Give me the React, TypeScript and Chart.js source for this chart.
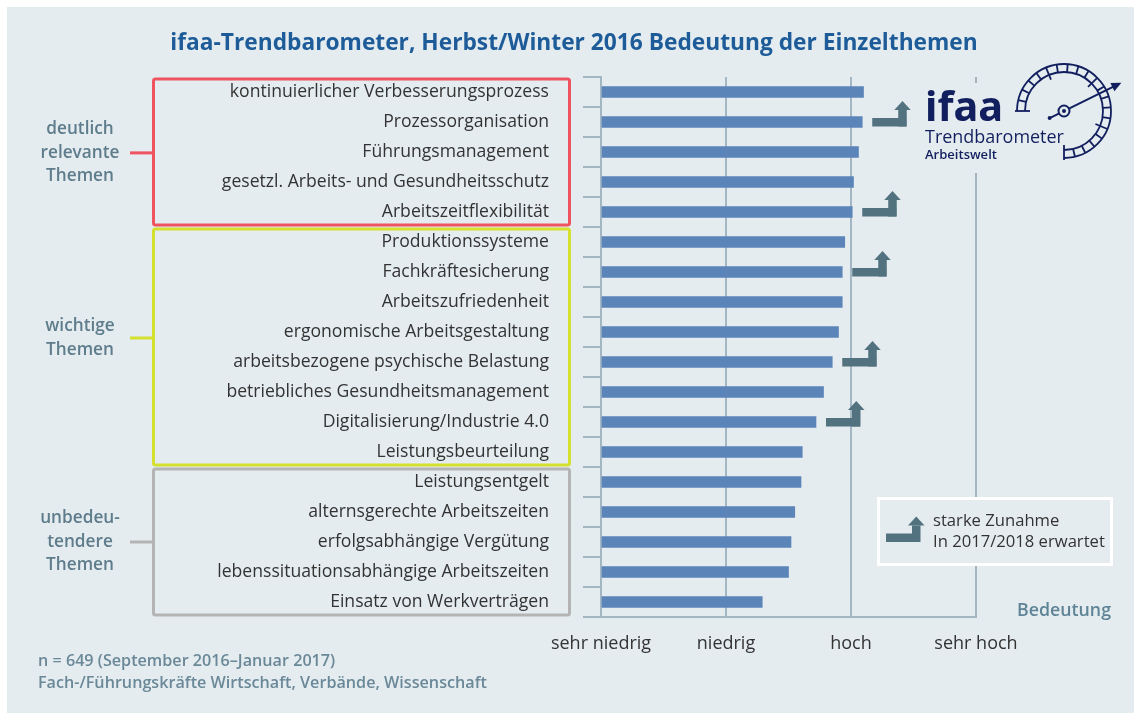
import React, { useEffect, useRef } from "react";
import { Chart, registerables } from "chart.js";

Chart.register(...registerables);

const categories = [
  "kontinuierlicher Verbesserungsprozess",
  "Prozessorganisation",
  "Führungsmanagement",
  "gesetzl. Arbeits- und Gesundheitsschutz",
  "Arbeitszeitflexibilität",
  "Produktionssysteme",
  "Fachkräftesicherung",
  "Arbeitszufriedenheit",
  "ergonomische Arbeitsgestaltung",
  "arbeitsbezogene psychische Belastung",
  "betriebliches Gesundheitsmanagement",
  "Digitalisierung/Industrie 4.0",
  "Leistungsbeurteilung",
  "Leistungsentgelt",
  "alternsgerechte Arbeitszeiten",
  "erfolgsabhängige Vergütung",
  "lebenssituationsabhängige Arbeitszeiten",
  "Einsatz von Werkverträgen",
];

const values = [3.10, 3.09, 3.06, 3.02, 3.01, 2.95, 2.93, 2.93, 2.90, 2.85, 2.78, 2.72, 2.61, 2.60, 2.55, 2.52, 2.50, 2.29];

const strongIncrease = [false, true, false, false, true, false, true, false, false, true, false, true, false, false, false, false, false, false];

const scaleLabels = ["sehr niedrig", "niedrig", "hoch", "sehr hoch"];

const groupLabels = [
  ["deutlich", "relevante", "Themen"],
  ["wichtige", "Themen"],
  ["unbedeu-", "tendere", "Themen"],
];
const groupFirst = [0, 5, 13];
const groupLast = [4, 12, 17];
const groupColors = ["#ef5360", "#d5e02e", "#b4b4b4"];
const groupAnchor = [2.03, 8.2, 15.0];

const titleText = "ifaa-Trendbarometer, Herbst/Winter 2016 Bedeutung der Einzelthemen";
const axisTitle = "Bedeutung";
const legendLines = ["starke Zunahme", "In 2017/2018 erwartet"];
const footLines = ["n = 649 (September 2016–Januar 2017)", "Fach-/Führungskräfte Wirtschaft, Verbände, Wissenschaft"];
const logoLines = ["ifaa", "Trendbarometer", "Arbeitswelt"];

const FAMILY = '"Open Sans", sans-serif';
const BG = "#e4ecf0";
const GRID = "#a3b6c4";
const BAR = "#5b84b8";
const ARROW = "#52727f";
const NAVY = "#121f5e";

function fitSize(ctx: CanvasRenderingContext2D, text: string, weight: string, family: string, target: number) {
  ctx.font = `${weight} 20px ${family}`;
  const w = ctx.measureText(text).width;
  return (20 * target) / w;
}

function drawArrow(ctx: CanvasRenderingContext2D, x0: number, cy: number) {
  ctx.fillStyle = ARROW;
  ctx.fillRect(x0, cy - 4, 34, 8.5);
  ctx.fillRect(x0 + 26, cy - 12, 8.5, 16.5);
  ctx.beginPath();
  ctx.moveTo(x0 + 22, cy - 12);
  ctx.lineTo(x0 + 38.5, cy - 12);
  ctx.lineTo(x0 + 30.25, cy - 21);
  ctx.closePath();
  ctx.fill();
}

function drawGauge(ctx: CanvasRenderingContext2D, cx: number, cy: number) {
  const rO = 47;
  const rI = 39;
  const a0 = Math.PI;
  const a1 = Math.PI * 2.5;
  ctx.save();
  ctx.strokeStyle = NAVY;
  ctx.lineWidth = 1.8;
  ctx.beginPath();
  ctx.arc(cx, cy, rO, a0, a1);
  ctx.stroke();
  ctx.beginPath();
  ctx.arc(cx, cy, rI, a0, a1);
  ctx.stroke();
  const n = 20;
  for (let i = 0; i <= n; i++) {
    const a = a0 + ((a1 - a0) * i) / n;
    const long = i === 0 || i === n || i % 5 === 0;
    const r1 = long ? rI - 5 : rI;
    const r2 = i === 0 || i === n ? rO + 2 : rO;
    ctx.beginPath();
    ctx.moveTo(cx + Math.cos(a) * r1, cy + Math.sin(a) * r1);
    ctx.lineTo(cx + Math.cos(a) * r2, cy + Math.sin(a) * r2);
    ctx.stroke();
  }
  const dx = 73;
  const dy = -36;
  const len = Math.hypot(dx, dy);
  const ux = dx / len;
  const uy = dy / len;
  const sx = cx - ux * 16;
  const sy = cy - uy * 16;
  const tx = cx + ux * 64;
  const ty = cy + uy * 64;
  ctx.lineWidth = 2;
  ctx.beginPath();
  ctx.moveTo(sx, sy);
  ctx.lineTo(tx - ux * 6, ty - uy * 6);
  ctx.stroke();
  ctx.fillStyle = NAVY;
  ctx.beginPath();
  ctx.moveTo(tx, ty);
  ctx.lineTo(tx - ux * 10 - uy * 4.5, ty - uy * 10 + ux * 4.5);
  ctx.lineTo(tx - ux * 10 + uy * 4.5, ty - uy * 10 - ux * 4.5);
  ctx.closePath();
  ctx.fill();
  ctx.beginPath();
  ctx.arc(sx, sy, 2, 0, Math.PI * 2);
  ctx.fill();
  ctx.fillStyle = BG;
  ctx.beginPath();
  ctx.arc(cx, cy, 5.5, 0, Math.PI * 2);
  ctx.fill();
  ctx.stroke();
  ctx.fillStyle = NAVY;
  ctx.beginPath();
  ctx.arc(cx, cy, 2, 0, Math.PI * 2);
  ctx.fill();
  ctx.restore();
}

const decorPlugin = {
  id: "decor",
  beforeDraw(chart: any) {
    const ctx: CanvasRenderingContext2D = chart.ctx;
    ctx.save();
    ctx.fillStyle = "#ffffff";
    ctx.fillRect(0, 0, chart.width, chart.height);
    ctx.fillStyle = BG;
    ctx.fillRect(7, 7, chart.width - 7, chart.height - 7);
    ctx.restore();
  },
  afterDraw(chart: any) {
    const ctx: CanvasRenderingContext2D = chart.ctx;
    const yScale = chart.scales.y;
    const meta = chart.getDatasetMeta(0);
    const step = yScale.getPixelForValue(1) - yScale.getPixelForValue(0);
    ctx.save();

    ctx.fillStyle = BG;
    ctx.fillRect(966, 83, 20, 90);

    ctx.fillStyle = NAVY;
    ctx.textAlign = "left";
    ctx.textBaseline = "alphabetic";
    let s = fitSize(ctx, logoLines[0], "bold", '"Noto Sans", sans-serif', 78);
    ctx.font = `bold ${s}px "Noto Sans", sans-serif`;
    ctx.fillText(logoLines[0], 925, 121);
    s = fitSize(ctx, logoLines[1], "normal", FAMILY, 139);
    ctx.font = `normal ${s}px ${FAMILY}`;
    ctx.fillText(logoLines[1], 925, 143);
    s = fitSize(ctx, logoLines[2], "600", FAMILY, 72);
    ctx.font = `600 ${s}px ${FAMILY}`;
    ctx.fillText(logoLines[2], 925, 159);
    drawGauge(ctx, 1064, 111);

    strongIncrease.forEach((flag, i) => {
      if (!flag) return;
      const el = meta.data[i];
      drawArrow(ctx, el.x + 10, el.y);
    });

    ctx.fillStyle = BG;
    ctx.fillRect(878, 498, 234, 67);
    ctx.strokeStyle = "#ffffff";
    ctx.lineWidth = 3;
    ctx.strokeRect(878.5, 498.5, 233, 66);
    drawArrow(ctx, 886, 537.5);
    ctx.fillStyle = "#333333";
    s = fitSize(ctx, legendLines[1], "normal", FAMILY, 172);
    ctx.font = `normal ${s}px ${FAMILY}`;
    ctx.textBaseline = "middle";
    ctx.fillText(legendLines[0], 933, 521);
    ctx.fillText(legendLines[1], 933, 542);

    const gs = fitSize(ctx, "relevante", "600", FAMILY, 79);
    for (let g = 0; g < groupLabels.length; g++) {
      const top = yScale.getPixelForValue(groupFirst[g]) - step / 2 + 2;
      const bottom = yScale.getPixelForValue(groupLast[g]) + step / 2 - 2;
      ctx.strokeStyle = groupColors[g];
      ctx.lineWidth = 3;
      ctx.beginPath();
      (ctx as any).roundRect(153.5, top, 416, bottom - top, 2);
      ctx.stroke();
      const ay = yScale.getPixelForValue(groupAnchor[g]);
      ctx.beginPath();
      ctx.moveTo(130, ay);
      ctx.lineTo(153, ay);
      ctx.stroke();
      ctx.fillStyle = "#5e7c8b";
      ctx.font = `600 ${gs}px ${FAMILY}`;
      ctx.textAlign = "center";
      ctx.textBaseline = "middle";
      const lines = groupLabels[g];
      const lh = 23.5;
      lines.forEach((t, k) => {
        ctx.fillText(t, 80, ay + (k - (lines.length - 1) / 2) * lh);
      });
    }

    ctx.fillStyle = "#1d5c98";
    s = fitSize(ctx, titleText, "bold", FAMILY, 808);
    ctx.font = `bold ${s}px ${FAMILY}`;
    ctx.textAlign = "center";
    ctx.textBaseline = "middle";
    ctx.fillText(titleText, 574, 44);

    ctx.fillStyle = "#5f8496";
    s = fitSize(ctx, axisTitle, "600", FAMILY, 94);
    ctx.font = `600 ${s}px ${FAMILY}`;
    ctx.textAlign = "left";
    ctx.fillText(axisTitle, 1017, 611);

    ctx.fillStyle = "#6a8897";
    s = fitSize(ctx, footLines[1], "600", FAMILY, 449);
    ctx.font = `600 ${s}px ${FAMILY}`;
    ctx.fillText(footLines[0], 38, 661);
    ctx.fillText(footLines[1], 38, 683);

    ctx.restore();
  },
};

export default function App() {
  const ref = useRef<HTMLCanvasElement | null>(null);
  useEffect(() => {
    const canvas = ref.current;
    if (!canvas) return;
    const chart = new Chart(canvas, {
      type: "bar",
      data: {
        labels: categories,
        datasets: [
          {
            data: values,
            base: 1,
            backgroundColor: BAR,
            borderWidth: 0,
            barThickness: 11,
          } as any,
        ],
      },
      options: {
        indexAxis: "y",
        animation: false,
        responsive: false,
        devicePixelRatio: 1,
        layout: { padding: { left: 0, top: 77, right: 158, bottom: 0 } },
        plugins: {
          legend: { display: false },
          title: { display: false },
          tooltip: { enabled: false },
        },
        scales: {
          x: {
            type: "linear",
            min: 1,
            max: 4,
            ticks: {
              stepSize: 1,
              autoSkip: false,
              maxRotation: 0,
              padding: 16,
              color: "#333333",
              font: { family: FAMILY, size: 18 },
              callback: (v: any) => scaleLabels[Number(v) - 1] ?? "",
            },
            grid: { color: GRID, lineWidth: 2, drawTicks: false },
            border: { color: GRID, width: 2 },
            afterFit: (sc: any) => {
              sc.height = 96;
            },
          },
          y: {
            type: "category",
            ticks: {
              autoSkip: false,
              padding: 34,
              color: "#333333",
              font: { family: FAMILY, size: 17.6 },
            },
            grid: {
              offset: true,
              drawOnChartArea: false,
              drawTicks: true,
              tickLength: 18,
              color: GRID,
              lineWidth: 2,
            },
            border: { color: GRID, width: 2 },
            afterFit: (sc: any) => {
              sc.width = 601;
            },
          },
        },
      } as any,
      plugins: [decorPlugin],
    });
    return () => chart.destroy();
  }, []);

  return (
    <div style={{ position: "fixed", left: 0, top: 0, width: 1134, height: 713, background: "#ffffff" }}>
      <canvas ref={ref} width={1134} height={713} style={{ display: "block", width: 1134, height: 713 }} />
    </div>
  );
}
